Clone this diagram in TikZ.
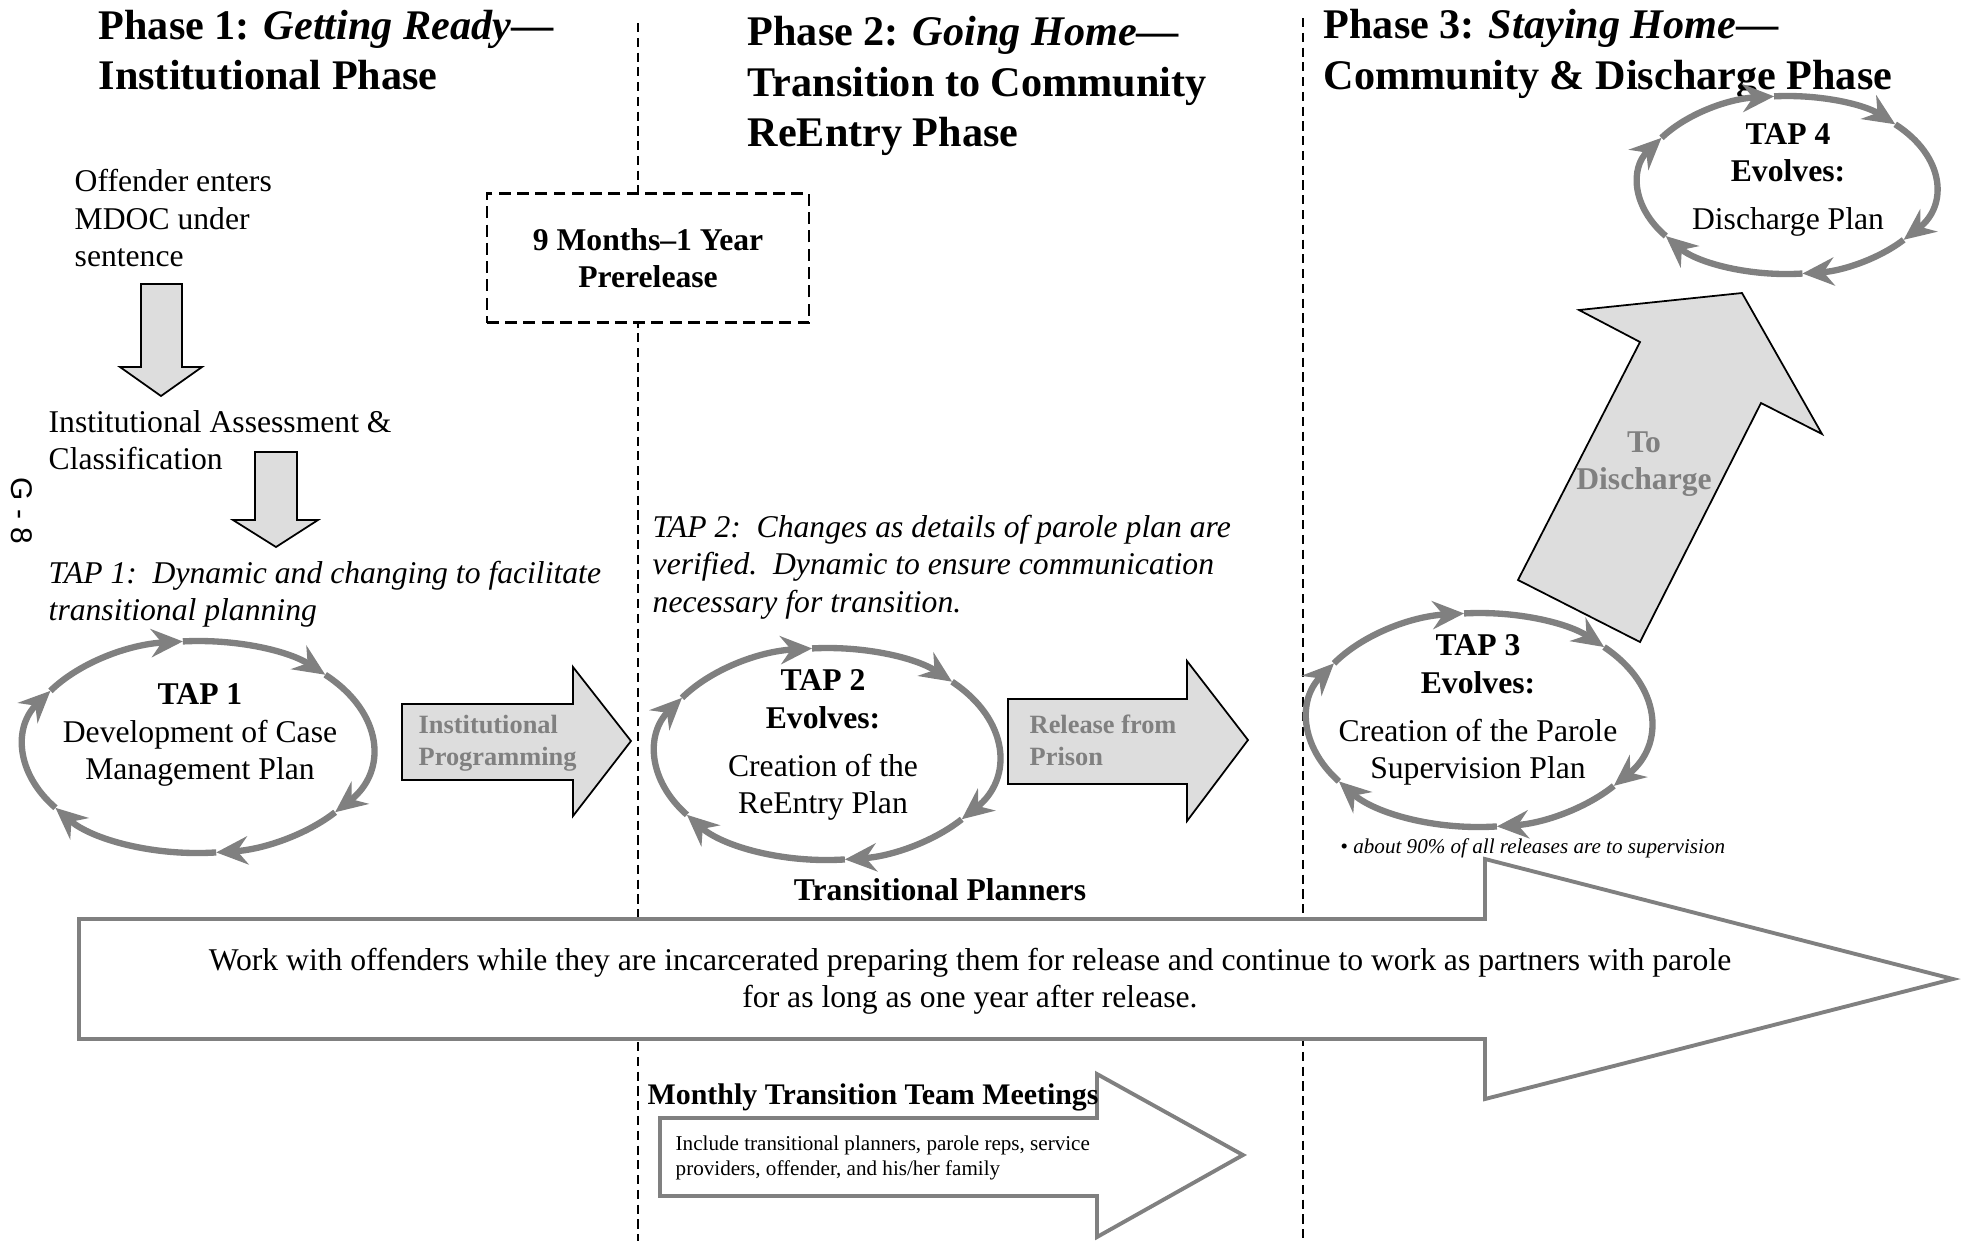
\documentclass[tikz,border=0pt]{standalone}
\usepackage{fontspec}
\setmainfont{Liberation Serif}
\newfontfamily\pagenofont{Liberation Sans}
\usepackage{xcolor}
\usetikzlibrary{arrows.meta}
\definecolor{ringgray}{HTML}{808080}
\definecolor{shadegray}{HTML}{DDDDDD}

\begin{document}
\begin{tikzpicture}[
    x=0.01cm, y=0.01cm,
    every node/.style={inner sep=0pt},
    phasetitle/.style={anchor=west, align=left, font=\fontsize{12}{14.3}\selectfont\bfseries},
    bodytext/.style={anchor=west, align=left, font=\fontsize{9}{10.6}\selectfont},
    tapnote/.style={bodytext, font=\fontsize{9}{10.6}\selectfont\itshape},
    smalltext/.style={anchor=west, align=left, font=\fontsize{6}{7.1}\selectfont},
    taptext/.style={align=center, font=\fontsize{9}{10.6}\selectfont},
    arrowtext/.style={anchor=west, align=left, text=ringgray, font=\fontsize{7.5}{9.2}\selectfont\bfseries},
    phaseline/.style={thin, dash pattern=on 2.6pt off 1.6pt},
    timebox/.style={draw, line width=0.7pt, dash pattern=on 3.4pt off 1.8pt, fill=white,
                    minimum width=3.22cm, minimum height=1.29cm, align=center,
                    font=\fontsize{9}{10.6}\selectfont\bfseries},
    grayblock/.style={draw, line width=0.5pt, fill=shadegray},
    openblock/.style={draw=ringgray, line width=1.1pt, fill=white},
    tapring/.style={draw=ringgray, line width=1.8pt, -{Stealth[length=9pt, width=8pt, inset=3pt]}},
  ]
    \useasboundingbox (0,0) rectangle (1963,-1241);

    \draw[phaseline] (638,-23) -- (638,-1241);
    \draw[phaseline] (1303,-18) -- (1303,-1241);

    \node[phasetitle] (ph1) at (98,-50)   {Phase 1: \textit{Getting Ready}---\\Institutional Phase};
    \node[phasetitle] (ph2) at (747,-86)  {Phase 2: \textit{Going Home}---\\Transition to Community\\ReEntry Phase};
    \node[phasetitle] (ph3) at (1323,-54) {Phase 3: \textit{Staying Home}---\\Community \& Discharge Phase};

    \node[timebox] (prerelease) at (648,-258) {9 Months--1 Year\\Prerelease};

    \node[bodytext] (enter)  at (74,-218) {Offender enters\\MDOC under\\sentence};
    \node[bodytext] (assess) at (48,-440) {Institutional Assessment \&\\Classification};
    \node[tapnote]  (note1)  at (48,-594) {TAP 1:\ \ Dynamic and changing to facilitate\\transitional planning};
    \node[tapnote]  (note2)  at (652,-567) {TAP 2:\ \ Changes as details of parole plan are\\verified.\ \ Dynamic to ensure communication\\necessary for transition.};

    \draw[grayblock] (141,-284) -- (182,-284) -- (182,-367) -- (202,-367) -- (161,-396) -- (120,-367) -- (141,-367) -- cycle;
    \draw[grayblock] (255,-452) -- (297,-452) -- (297,-520) -- (318,-520) -- (276,-547) -- (233,-520) -- (255,-520) -- cycle;

    \coordinate (e1) at (198,-747);
    \coordinate (e2) at (827,-754);
    \coordinate (e3) at (1479,-720);
    \coordinate (e4) at (1787,-185);

    \node[taptext] (tap1) at (200,-735)  {\textbf{TAP 1}\\Development of Case\\Management Plan};
    \node[taptext] (tap2) at (823,-745)  {\textbf{TAP 2}\\\textbf{Evolves:}\\[3pt]Creation of the\\ReEntry Plan};
    \node[taptext] (tap3) at (1478,-710) {\textbf{TAP 3}\\\textbf{Evolves:}\\[3pt]Creation of the Parole\\Supervision Plan};
    \node[taptext] (tap4) at (1788,-180) {\textbf{TAP 4}\\\textbf{Evolves:}\\[3pt]Discharge Plan};

    \foreach \c/\rx/\ry in {e1/174/106, e2/171/106, e3/171/107, e4/148/89}
      \foreach \a/\b in {148/95, 95/43, 43/-38, -38/-84, -84/-145, -145/-212}
        \draw[tapring] (\c) ++({\rx*cos(\a)},{\ry*sin(\a)}) arc[start angle=\a, end angle=\b, x radius=\rx, y radius=\ry];

    \draw[grayblock] (402,-704) -- (573,-704) -- (573,-667) -- (631,-741) -- (573,-816) -- (573,-780) -- (402,-780) -- cycle;
    \node[arrowtext] (programming) at (418,-743) {Institutional\\Programming};

    \draw[grayblock] (1008,-699) -- (1187,-699) -- (1187,-661) -- (1248,-740) -- (1187,-821) -- (1187,-784) -- (1008,-784) -- cycle;
    \node[arrowtext] (release) at (1029,-740) {Release from\\Prison};

    \draw[grayblock] (1518,-580) -- (1640,-642) -- (1761,-403) -- (1822,-434) -- (1742,-293) -- (1579,-310) -- (1640,-342) -- cycle;
    \node[arrowtext, anchor=center, align=center, font=\fontsize{9}{10.6}\selectfont\bfseries] (discharge) at (1644,-464) {To\\Discharge};

    \node[smalltext] (ninety) at (1340,-848) {\textbullet\ \textit{about 90\% of all releases are to supervision}};
    \node[font=\fontsize{9}{10.6}\selectfont\bfseries] (planners) at (940,-890) {Transitional Planners};

    \draw[openblock] (79,-919) -- (1485,-919) -- (1485,-859) -- (1953,-979) -- (1485,-1099) -- (1485,-1039) -- (79,-1039) -- cycle;
    \node[taptext] (work) at (970,-981) {Work with offenders while they are incarcerated preparing them for release and continue to work as partners with parole\\for as long as one year after release.};

    \draw[openblock] (660,-1118) -- (1097,-1118) -- (1097,-1074) -- (1243,-1155) -- (1097,-1237) -- (1097,-1196) -- (660,-1196) -- cycle;
    \node[bodytext, font=\fontsize{8.5}{10}\selectfont\bfseries] (meetings) at (647,-1097) {Monthly Transition Team Meetings};
    \node[smalltext] (members) at (675,-1158) {Include transitional planners, parole reps, service\\providers, offender, and his/her family};

    \node[font=\pagenofont\fontsize{8.5}{10}\selectfont, rotate=-90] (pageno) at (22,-511) {G - 8};
  \end{tikzpicture}
\end{document}
